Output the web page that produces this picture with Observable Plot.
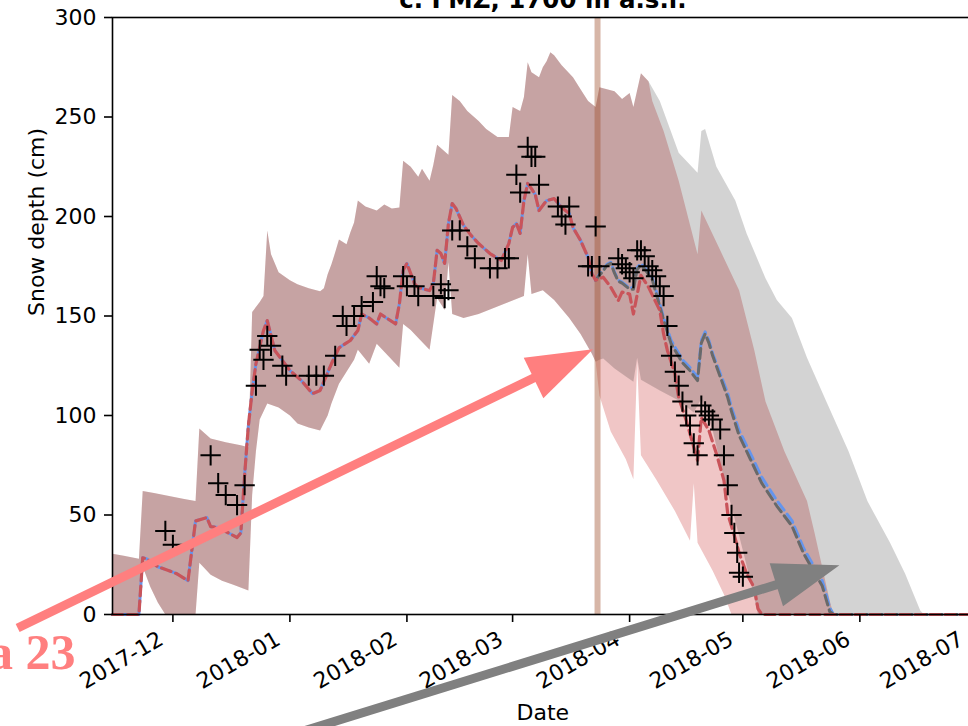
<!DOCTYPE html>
<html><head><meta charset="utf-8">
<script src="https://cdn.jsdelivr.net/npm/d3@7"></script>
<script src="https://cdn.jsdelivr.net/npm/@observablehq/plot@0.6"></script>
<style>
html, body { margin: 0; padding: 0; background: #fff; overflow: hidden; }
</style></head>
<body><div id="chart"></div>
<script>
// ---------- texts ----------
const title = "c. FMZ, 1700 m a.s.l.";
const yLabel = "Snow depth (cm)";
const xLabel = "Date";
const note = "a 23";
const yTicks = [0, 50, 100, 150, 200, 250, 300];
const monthTicks = ["2017-12-01","2018-01-01","2018-02-01","2018-03-01","2018-04-01","2018-05-01","2018-06-01","2018-07-01"];
const markerDate = "2018-03-23T12:00";

// ---------- observed snow depth (+ markers) ----------
const observed = [
["2017-11-29",42],["2017-12-01",35],["2017-12-11",80],["2017-12-13",66],["2017-12-15",60],["2017-12-18",55],["2017-12-20",65],
["2017-12-23",115],["2017-12-24",133],["2017-12-25",128],["2017-12-26",140],["2017-12-27",135],["2017-12-30",125],["2017-12-31",120],
["2018-01-06",120],["2018-01-08",120],["2018-01-10",120],["2018-01-13",130],["2018-01-15",150],["2018-01-16",145],["2018-01-18",150],
["2018-01-20",155],["2018-01-23",157],["2018-01-24",170],["2018-01-25",165],["2018-01-26",164],["2018-01-31",170],["2018-02-01",165],
["2018-02-03",165],["2018-02-04",160],["2018-02-08",160],["2018-02-10",166],["2018-02-11",159],["2018-02-12",163],["2018-02-13",193],
["2018-02-15",193],["2018-02-17",185],["2018-02-19",179],["2018-02-23",174],["2018-02-25",174],["2018-02-27",179],["2018-02-28",179],
["2018-03-02",221],["2018-03-03",212],["2018-03-05",235],["2018-03-06",230],["2018-03-07",230],["2018-03-08",216],["2018-03-13",205],
["2018-03-14",200],["2018-03-15",196],["2018-03-16",205],["2018-03-21",175],["2018-03-22",175],["2018-03-23",195],["2018-03-24",175],
["2018-03-29",179],["2018-03-30",176],["2018-03-31",174],["2018-04-01",172],["2018-04-02",169],["2018-04-03",183],["2018-04-04",183],
["2018-04-05",180],["2018-04-06",175],["2018-04-07",173],["2018-04-08",170],["2018-04-09",165],["2018-04-10",160],["2018-04-11",145],
["2018-04-12",130],["2018-04-13",122],["2018-04-14",115],["2018-04-15",107],["2018-04-16",100],["2018-04-17",95],["2018-04-18",86],
["2018-04-19",80],["2018-04-20",105],["2018-04-21",102],["2018-04-22",100],["2018-04-23",98],["2018-04-25",93],["2018-04-26",80],
["2018-04-27",65],["2018-04-28",50],["2018-04-28T18:00",41],["2018-04-29T12:00",31],["2018-04-30",21],["2018-05-01",19]
];

// ---------- simulated mean (shared by red and blue runs until 23 March) ----------
const meanBefore = [
["2017-11-15",0],["2017-11-22",0],["2017-11-23",28.5],["2017-11-24",28],["2017-11-27",24],["2017-11-30",22],["2017-12-02",20.5],
["2017-12-05",17],["2017-12-07",47],["2017-12-10",48.7],["2017-12-11",44.2],["2017-12-13",43.7],["2017-12-16",40.7],["2017-12-18",38.7],
["2017-12-19",41],["2017-12-20",70],["2017-12-21",95],["2017-12-22",112],["2017-12-23",126],["2017-12-25",142.7],["2017-12-26",147.7],
["2017-12-28",132.7],["2018-01-01",122.6],["2018-01-04",117.6],["2018-01-07",111],["2018-01-09",112.6],["2018-01-12",126],
["2018-01-14",134],["2018-01-17",137.7],["2018-01-19",142.7],["2018-01-20",151],["2018-01-22",149],["2018-01-24",146],["2018-01-25",151],
["2018-01-29",146],["2018-01-30",156],["2018-01-31",173],["2018-02-01",176.4],["2018-02-03",166.3],["2018-02-04",164.3],["2018-02-07",162.8],
["2018-02-08",166.3],["2018-02-09",183],["2018-02-10",181.4],["2018-02-11",176.4],["2018-02-12",196.5],["2018-02-13",206.5],["2018-02-14",204],
["2018-02-16",195.5],["2018-02-18",190.5],["2018-02-20",186.4],["2018-02-23",181.4],["2018-02-26",177.9],["2018-02-28",186.4],
["2018-03-01",194.5],["2018-03-02",196.5],["2018-03-03",191.5],["2018-03-04",208],["2018-03-05",216.6],["2018-03-06",214],["2018-03-07",211],
["2018-03-08",203],["2018-03-10",208],["2018-03-12",209],["2018-03-14",204.5],["2018-03-16",201.5],["2018-03-17",194.5],["2018-03-19",188],
["2018-03-21",179.4],["2018-03-22",171.4],["2018-03-23",168]
];
const redAfter = [
["2018-03-25",169.5],["2018-03-27",164.5],["2018-03-29",157.8],["2018-03-30",162],["2018-04-01",161],["2018-04-02",151],["2018-04-04",170.4],
["2018-04-06",164.5],["2018-04-09",152.8],["2018-04-10",141],["2018-04-11",132.7],["2018-04-13",121],["2018-04-14",109],["2018-04-16",97.5],
["2018-04-17",90.8],["2018-04-19",77.5],["2018-04-20",99],["2018-04-22",92.5],["2018-04-24",80.8],["2018-04-26",67.3],["2018-04-27",50.6],
["2018-04-29",38],["2018-04-30",31],["2018-05-02",20.5],["2018-05-04",13.5],["2018-05-05",3],["2018-05-06",0],["2018-07-01",0]
];
const blueAfter = [
["2018-03-24",171],["2018-03-25",173],["2018-03-26",176],["2018-03-27",177],["2018-03-28",172],["2018-03-29",168],["2018-03-30",167],
["2018-04-01",164],["2018-04-02",164.3],["2018-04-03",174.4],["2018-04-04",176.4],["2018-04-05",174.4],["2018-04-07",169.3],["2018-04-08",162.8],
["2018-04-10",149.2],["2018-04-12",137.7],["2018-04-15",128],["2018-04-17",124.1],["2018-04-19",119.1],["2018-04-20",137.7],["2018-04-21",142],
["2018-04-22",137.7],["2018-04-23",131.2],["2018-04-25",121.1],["2018-04-27",111.1],["2018-04-28",104],["2018-04-30",92.5],["2018-05-03",80.9],
["2018-05-06",69],["2018-05-10",57.3],["2018-05-14",47.2],["2018-05-17",33.7],["2018-05-20",23.6],["2018-05-22",17.1],["2018-05-23",10.6],
["2018-05-24",3.5],["2018-05-25",0],["2018-07-01",0]
];
const grayAfter = [
["2018-03-23",168],["2018-03-24",170.5],["2018-03-25",172.5],["2018-03-26",175.5],["2018-03-27",176.5],["2018-03-28",171.5],["2018-03-29",167.5],
["2018-03-30",166.5],["2018-04-01",163.5],["2018-04-02",163.5],["2018-04-03",173.5],["2018-04-04",175.5],["2018-04-05",173.5],["2018-04-07",168.3],
["2018-04-08",161.5],["2018-04-10",148],["2018-04-12",136],["2018-04-15",126.5],["2018-04-17",122.5],["2018-04-19",117.5],["2018-04-20",136.5],
["2018-04-21",141],["2018-04-22",136.5],["2018-04-23",130],["2018-04-25",119.5],["2018-04-27",109],["2018-04-28",102],["2018-04-30",90],
["2018-05-03",78],["2018-05-06",66],["2018-05-10",54.5],["2018-05-14",44.5],["2018-05-17",31],["2018-05-20",21],["2018-05-22",14.5],
["2018-05-23",8],["2018-05-24",1.5],["2018-05-25",0],["2018-07-01",0]
];

// ---------- ensemble envelopes ----------
const bandUpperBefore = [
["2017-11-15",30.5],["2017-11-18",29.5],["2017-11-22",28],["2017-11-23",62],["2017-11-26",61],["2017-11-30",59.5],["2017-12-04",58],
["2017-12-07",57],["2017-12-08",93.5],["2017-12-11",88.5],["2017-12-15",86.5],["2017-12-19",85],["2017-12-21",84],["2017-12-22",152],
["2017-12-24",157],["2017-12-25",160],["2017-12-26",193],["2017-12-27",181],["2017-12-29",172],["2018-01-01",168],["2018-01-03",166],
["2018-01-06",164],["2018-01-09",162.5],["2018-01-10",164],["2018-01-11",171],["2018-01-12",176],["2018-01-13",182],["2018-01-14",188.5],
["2018-01-16",186],["2018-01-17",192],["2018-01-18",197],["2018-01-19",208],["2018-01-21",205],["2018-01-24",203],["2018-01-26",206],
["2018-01-28",204],["2018-01-30",204.5],["2018-01-31",228],["2018-02-02",225],["2018-02-04",220],["2018-02-05",224],["2018-02-07",218],
["2018-02-08",226],["2018-02-09",236],["2018-02-12",231],["2018-02-13",261],["2018-02-15",258],["2018-02-17",253],["2018-02-20",248],
["2018-02-22",244],["2018-02-25",240],["2018-02-28",240],["2018-03-01",255],["2018-03-03",253],["2018-03-04",260],["2018-03-05",277.5],
["2018-03-06",272.5],["2018-03-08",270],["2018-03-09",275],["2018-03-10",278],["2018-03-11",282.5],["2018-03-12",281],["2018-03-14",276],
["2018-03-17",270],["2018-03-19",264],["2018-03-21",258],["2018-03-23",255]
];
const bandLowerBefore = [
["2017-11-15",0],["2017-11-22",0],["2017-11-23",24],["2017-11-25",14],["2017-11-27",6],["2017-11-29",0],["2017-12-07",0],
["2017-12-08",26],["2017-12-11",20],["2017-12-14",17],["2017-12-17",15],["2017-12-21",12],["2017-12-22",60],["2017-12-23",82],
["2017-12-24",98],["2017-12-26",106],["2017-12-29",104],["2018-01-01",100],["2018-01-03",96],["2018-01-06",94],["2018-01-09",92.5],
["2018-01-11",100],["2018-01-12",106],["2018-01-14",116],["2018-01-16",122],["2018-01-18",128],["2018-01-19",133],["2018-01-22",126],
["2018-01-24",136],["2018-01-27",130],["2018-01-30",124],["2018-01-31",146],["2018-02-02",143],["2018-02-04",139],["2018-02-07",133],
["2018-02-09",159],["2018-02-11",153],["2018-02-12",177],["2018-02-13",151],["2018-02-16",149],["2018-02-20",151],["2018-02-24",154],
["2018-02-28",157],["2018-03-04",160],["2018-03-05",181],["2018-03-06",161],["2018-03-09",163],["2018-03-12",158],["2018-03-16",149],
["2018-03-19",141],["2018-03-22",131],["2018-03-23",127]
];
const redUpperAfter = [
["2018-03-24",265],["2018-03-28",263],["2018-03-30",259],["2018-04-01",262],["2018-04-02",255],["2018-04-04",272],["2018-04-06",268],
["2018-04-07",258],["2018-04-10",243],["2018-04-14",218],["2018-04-19",181],["2018-04-20",203],["2018-04-25",183],["2018-04-30",163],
["2018-05-04",133],["2018-05-07",107],["2018-05-12",82],["2018-05-18",57],["2018-05-20",41],["2018-05-22",24],["2018-05-24",7],["2018-05-25",0]
];
const redLowerAfter = [
["2018-03-24",110],["2018-03-27",92],["2018-03-31",78],["2018-04-02",68],["2018-04-03",127],["2018-04-04",80],["2018-04-08",68],
["2018-04-13",52],["2018-04-17",37],["2018-04-18",66],["2018-04-19",36],["2018-04-23",22],["2018-04-26",10],["2018-04-28",0]
];
const grayUpperAfter = [
["2018-03-24",265],["2018-03-28",263],["2018-03-30",259],["2018-04-01",262],["2018-04-02",255],["2018-04-04",272],["2018-04-06",268],
["2018-04-09",258],["2018-04-14",232],["2018-04-19",222],["2018-04-20",243],["2018-04-21",244],["2018-04-24",225],["2018-04-29",208],
["2018-05-02",191.5],["2018-05-07",169],["2018-05-10",158],["2018-05-14",149],["2018-05-18",129],["2018-05-23",107.5],["2018-05-29",82],
["2018-06-03",57],["2018-06-09",36],["2018-06-13",20.5],["2018-06-17",2],["2018-06-18",0]
];
const grayLowerAfter = [
["2018-03-24",128],["2018-03-25",128.6],["2018-03-28",123.6],["2018-03-31",119.6],["2018-04-02",117],["2018-04-03",129],["2018-04-04",118],
["2018-04-09",112.6],["2018-04-14",107.5],["2018-04-18",101.5],["2018-04-20",108.5],["2018-04-23",92.5],["2018-04-26",68.3],
["2018-04-30",39.7],["2018-05-03",17],["2018-05-05",0]
];

// ---------- annotation arrows (data coordinates) ----------
const arrows = [
  {from: ["2017-10-21", -7], to: ["2018-03-22T10:00", 133], color: "#ff7f7f", width: 9},
  {from: ["2018-01-01", -61], to: ["2018-05-26T17:00", 24.5], color: "#808080", width: 9}
];

// ---------- build ----------
const parse = s => new Date(s.length > 10 ? s + "Z" : s);
const rows = arr => arr.map(([d, v]) => ({date: parse(d), depth: v}));
const polygon = (upper, lower) => rows(upper.concat(lower.slice().reverse()));

const redBand = polygon(bandUpperBefore.concat(redUpperAfter), bandLowerBefore.concat(redLowerAfter));
const grayBand = polygon(bandUpperBefore.concat(grayUpperAfter), bandLowerBefore.concat(grayLowerAfter));
const redLine = rows(meanBefore.concat(redAfter));
const blueLine = rows(meanBefore.concat(blueAfter));
const grayLine = rows(grayAfter);
const obs = rows(observed);
const months = monthTicks.map(parse);

const chart = Plot.plot({
  width: 968, height: 726,
  marginLeft: 112, marginRight: -4.6, marginTop: 17, marginBottom: 112,
  style: {fontFamily: "'DejaVu Sans', sans-serif", fontSize: "22px", background: "white", overflow: "hidden", color: "black"},
  x: {type: "utc", domain: [parse("2017-11-15"), parse("2018-07-01")]},
  y: {domain: [0, 300]},
  marks: [
    Plot.line(redBand, {x: "date", y: "depth", fill: "rgb(240,198,198)", stroke: "none"}),
    Plot.line(grayBand, {x: "date", y: "depth", fill: "black", fillOpacity: 0.1725, stroke: "none"}),
    Plot.ruleX([parse(markerDate)], {stroke: "#a0522d", strokeOpacity: 0.42, strokeWidth: 6}),
    Plot.line(blueLine, {x: "date", y: "depth", stroke: "cornflowerblue", strokeWidth: 3, strokeDasharray: "10 5", strokeDashoffset: 7}),
    Plot.line(grayLine, {x: "date", y: "depth", stroke: "dimgray", strokeWidth: 3, strokeDasharray: "10 5", strokeDashoffset: 1}),
    Plot.line(redLine, {x: "date", y: "depth", stroke: "#c9545a", strokeWidth: 3.2, strokeDasharray: "10 5"}),
    Plot.dot(obs, {x: "date", y: "depth", symbol: "plus", r: 6.6, stroke: "black", strokeWidth: 2, fill: "none"}),
    Plot.frame({stroke: "black", strokeWidth: 1.6}),
    Plot.axisY({ticks: yTicks, tickSize: 8, tickPadding: 8, label: null, strokeWidth: 1.6}),
    Plot.axisX({ticks: months, tickSize: 8, tickFormat: () => "", label: null, strokeWidth: 1.6}),
    Plot.text(months, {x: d => d, text: d => d3.utcFormat("%Y-%m")(d), frameAnchor: "bottom", rotate: -30, textAnchor: "end", dy: 29, dx: -8}),
    Plot.text([yLabel], {text: d => d, frameAnchor: "left", dx: -76, rotate: -90}),
    Plot.text([xLabel], {text: d => d, frameAnchor: "bottom", dy: 105}),
    Plot.text([title], {text: d => d, frameAnchor: "top", dy: -27, fontWeight: "bold", fontSize: 24.5}),
    Plot.text([note], {text: d => d, frameAnchor: "bottom-left", dx: -37, dy: 54, textAnchor: "end", fill: "#ff7f7f",
      fontSize: 50, fontWeight: "bold", fontFamily: "'Liberation Serif', serif"})
  ]
});
document.getElementById("chart").appendChild(chart);

// arrows drawn through the plot's own scales
const sx = chart.scale("x"), sy = chart.scale("y");
const X = sx.apply ? sx.apply : d3.scaleUtc(sx.domain, sx.range);
const Y = sy.apply ? sy.apply : d3.scaleLinear(sy.domain, sy.range);
const g = d3.select(chart).append("g");
for (const a of arrows) {
  const x1 = X(parse(a.from[0])), y1 = Y(a.from[1]);
  const x2 = X(parse(a.to[0])), y2 = Y(a.to[1]);
  const L = Math.hypot(x2 - x1, y2 - y1), ux = (x2 - x1) / L, uy = (y2 - y1) / L;
  const hl = 66, hw = 45;
  const bx = x2 - ux * hl, by = y2 - uy * hl;
  g.append("line").attr("x1", x1).attr("y1", y1).attr("x2", bx + ux * 3).attr("y2", by + uy * 3)
    .attr("stroke", a.color).attr("stroke-width", a.width);
  g.append("path").attr("d", `M${x2},${y2}L${bx - uy * hw / 2},${by + ux * hw / 2}L${bx + uy * hw / 2},${by - ux * hw / 2}Z`)
    .attr("fill", a.color);
}
</script>
</body></html>
